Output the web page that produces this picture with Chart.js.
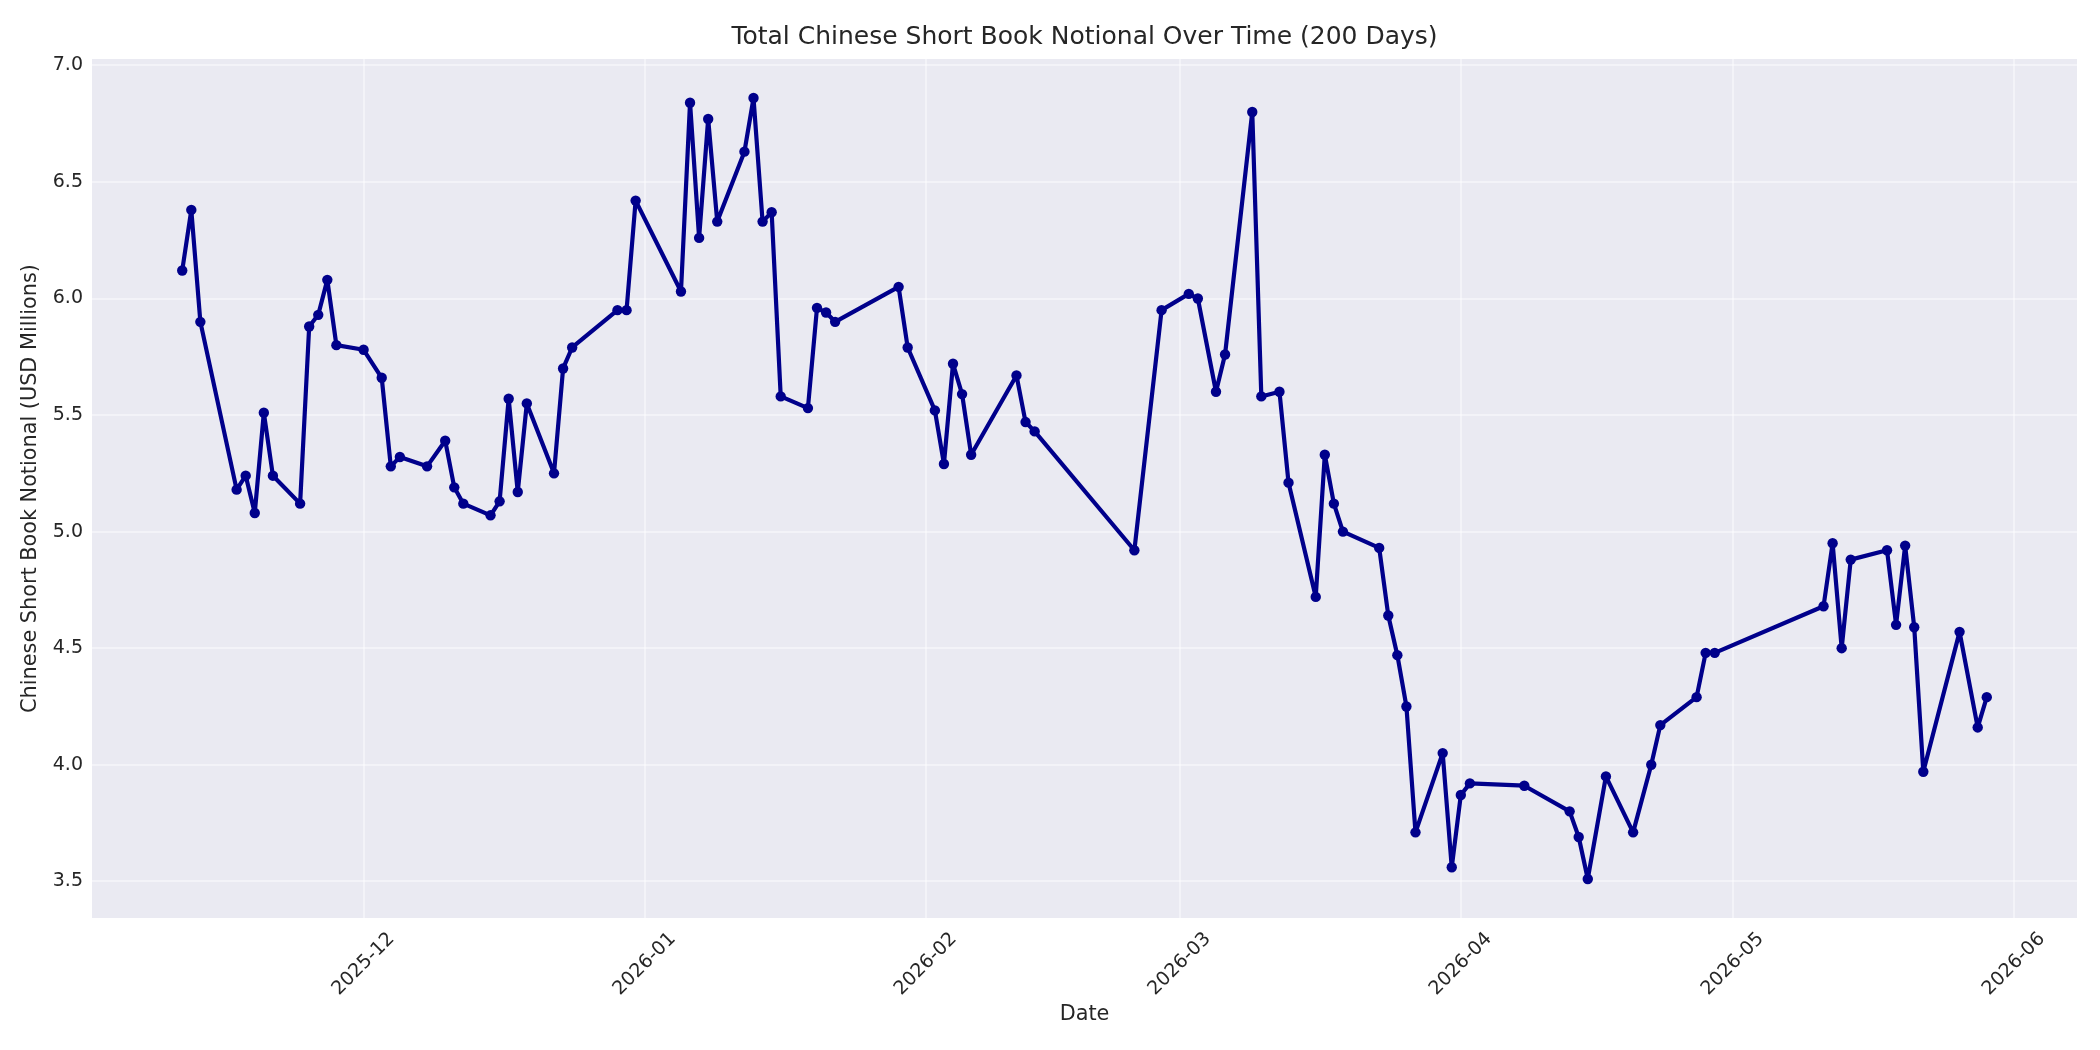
<!DOCTYPE html>
<html>
<head>
<meta charset="utf-8">
<title>Total Chinese Short Book Notional Over Time</title>
<script src="https://cdn.jsdelivr.net/npm/chart.js@4.4.1/dist/chart.umd.min.js"></script>
<style>
  html, body { margin: 0; padding: 0; background: #ffffff; }
  #wrap { width: 2100px; height: 1050px; position: relative; }
</style>
</head>
<body>
<div id="wrap"><canvas id="myChart"></canvas></div>
<script>
var dates = [
  '2025-11-11','2025-11-12','2025-11-13','2025-11-17','2025-11-18','2025-11-19','2025-11-20','2025-11-21',
  '2025-11-24','2025-11-25','2025-11-26','2025-11-27','2025-11-28','2025-12-01','2025-12-03','2025-12-04',
  '2025-12-05','2025-12-08','2025-12-10','2025-12-11','2025-12-12','2025-12-15','2025-12-16','2025-12-17',
  '2025-12-18','2025-12-19','2025-12-22','2025-12-23','2025-12-24','2025-12-29','2025-12-30','2025-12-31',
  '2026-01-05','2026-01-06','2026-01-07','2026-01-08','2026-01-09','2026-01-12','2026-01-13','2026-01-14',
  '2026-01-15','2026-01-16','2026-01-19','2026-01-20','2026-01-21','2026-01-22','2026-01-29','2026-01-30',
  '2026-02-02','2026-02-03','2026-02-04','2026-02-05','2026-02-06','2026-02-11','2026-02-12','2026-02-13',
  '2026-02-24','2026-02-27','2026-03-02','2026-03-03','2026-03-05','2026-03-06','2026-03-09','2026-03-10',
  '2026-03-12','2026-03-13','2026-03-16','2026-03-17','2026-03-18','2026-03-19','2026-03-23','2026-03-24',
  '2026-03-25','2026-03-26','2026-03-27','2026-03-30','2026-03-31','2026-04-01','2026-04-02','2026-04-08',
  '2026-04-13','2026-04-14','2026-04-15','2026-04-17','2026-04-20','2026-04-22','2026-04-23','2026-04-27',
  '2026-04-28','2026-04-29','2026-05-11','2026-05-12','2026-05-13','2026-05-14','2026-05-18','2026-05-19',
  '2026-05-20','2026-05-21','2026-05-22','2026-05-26','2026-05-28','2026-05-29'
];
var notional = [
  6.12, 6.38, 5.90, 5.18, 5.24, 5.08, 5.51, 5.24,
  5.12, 5.88, 5.93, 6.08, 5.80, 5.78, 5.66, 5.28,
  5.32, 5.28, 5.39, 5.19, 5.12, 5.07, 5.13, 5.57,
  5.17, 5.55, 5.25, 5.70, 5.79, 5.95, 5.95, 6.42,
  6.03, 6.84, 6.26, 6.77, 6.33, 6.63, 6.86, 6.33,
  6.37, 5.58, 5.53, 5.96, 5.94, 5.90, 6.05, 5.79,
  5.52, 5.29, 5.72, 5.59, 5.33, 5.67, 5.47, 5.43,
  4.92, 5.95, 6.02, 6.00, 5.60, 5.76, 6.80, 5.58,
  5.60, 5.21, 4.72, 5.33, 5.12, 5.00, 4.93, 4.64,
  4.47, 4.25, 3.71, 4.05, 3.56, 3.87, 3.92, 3.91,
  3.80, 3.69, 3.51, 3.95, 3.71, 4.00, 4.17, 4.29,
  4.48, 4.48, 4.68, 4.95, 4.50, 4.88, 4.92, 4.60,
  4.94, 4.59, 3.97, 4.57, 4.16, 4.29
];
var xTicks = ['2025-12-01','2026-01-01','2026-02-01','2026-03-01','2026-04-01','2026-05-01','2026-06-01'];
var yTicks = [3.5, 4.0, 4.5, 5.0, 5.5, 6.0, 6.5, 7.0];

var FONT = "'DejaVu Sans', sans-serif";
var TEXT = '#262626';

function dayNum(s) {
    return Date.UTC(+s.slice(0, 4), +s.slice(5, 7) - 1, +s.slice(8, 10)) / 86400000;
}

function monthLabel(v) {
    let d = new Date(v * 86400000);
    return d.getUTCFullYear() + '-' + String(d.getUTCMonth() + 1).padStart(2, '0');
}

// matplotlib style 5% margins
var xs = dates.map(dayNum);
var xSpan = xs[xs.length - 1] - xs[0];
var yMin = Math.min.apply(null, notional), yMax = Math.max.apply(null, notional);
var ySpan = yMax - yMin;

var points = [];
for (let i = 0; i < dates.length; i++) {
    points.push({x: xs[i], y: notional[i]});
}

var plotBg = {
    id: 'plotBg',
    beforeDraw(chart) {
        let a = chart.chartArea;
        let ctx = chart.ctx;
        ctx.save();
        ctx.fillStyle = '#EAEAF2';
        ctx.fillRect(a.left, a.top, a.right - a.left, a.bottom - a.top);
        ctx.restore();
    }
};

var ctx = document.getElementById('myChart').getContext('2d');
var myChart = new Chart(ctx, {
    type: 'line',
    data: {
        datasets: [{
            label: 'Total Chinese Short Book Notional',
            data: points,
            borderColor: '#00008B',
            backgroundColor: '#00008B',
            borderWidth: 4.2,
            borderJoinStyle: 'round',
            borderCapStyle: 'round',
            pointRadius: 5.2,
            pointBorderWidth: 0,
            pointBackgroundColor: '#00008B',
            tension: 0,
            fill: false
        }]
    },
    options: {
        responsive: true,
        maintainAspectRatio: false,
        devicePixelRatio: 1,
        animation: false,
        layout: { padding: { left: 0, right: 23, top: 0, bottom: 0 } },
        plugins: {
            legend: { display: false },
            tooltip: { enabled: false },
            title: {
                display: true,
                text: 'Total Chinese Short Book Notional Over Time (200 Days)',
                color: TEXT,
                fullSize: false,
                font: { family: FONT, size: 25, weight: 'normal' },
                padding: { top: 22, bottom: 7 }
            }
        },
        scales: {
            x: {
                type: 'linear',
                min: xs[0] - 0.05 * xSpan,
                max: xs[xs.length - 1] + 0.05 * xSpan,
                afterBuildTicks: (scale) => {
                    scale.ticks = xTicks.map(d => ({value: dayNum(d)}));
                },
                afterFit: (scale) => { scale.height = 132; },
                border: { display: false },
                grid: { color: 'rgba(255,255,255,0.45)', lineWidth: 2, drawTicks: false },
                ticks: {
                    color: TEXT,
                    font: { family: FONT, size: 19 },
                    minRotation: 45,
                    maxRotation: 45,
                    autoSkip: false,
                    padding: 10,
                    labelOffset: 28,
                    callback: (v) => monthLabel(v)
                },
                title: {
                    display: true,
                    text: 'Date',
                    color: TEXT,
                    font: { family: FONT, size: 20.8 },
                    padding: { top: 0, bottom: 23 }
                }
            },
            y: {
                min: yMin - 0.05 * ySpan,
                max: yMax + 0.05 * ySpan,
                afterBuildTicks: (scale) => {
                    scale.ticks = yTicks.map(v => ({value: v}));
                },
                afterFit: (scale) => { scale.width = 92; },
                border: { display: false },
                grid: { color: 'rgba(255,255,255,0.45)', lineWidth: 2, drawTicks: false },
                ticks: {
                    color: TEXT,
                    font: { family: FONT, size: 19 },
                    padding: 9,
                    callback: (v) => v.toFixed(1)
                },
                title: {
                    display: true,
                    text: 'Chinese Short Book Notional (USD Millions)',
                    color: TEXT,
                    font: { family: FONT, size: 20.8 },
                    padding: { top: 18, bottom: 0 }
                }
            }
        }
    },
    plugins: [plotBg]
});
</script>
</body>
</html>
